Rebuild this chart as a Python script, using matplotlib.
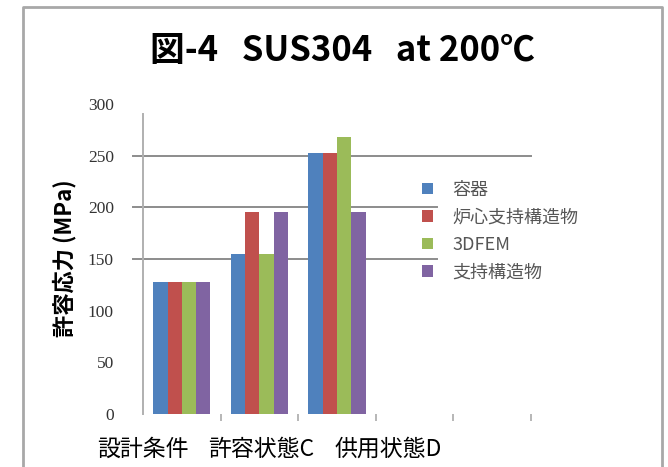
import matplotlib
matplotlib.use('Agg')
import matplotlib.pyplot as plt
import numpy as np
from matplotlib.lines import Line2D

plt.rcParams['font.family'] = ['Noto Sans CJK JP', 'DejaVu Sans']

# data
categories = ['設計条件', '許容状態C', '供用状態D']
series_names = ['容器', '炉心支持構造物', '3DFEM', '支持構造物']
vessel = [128, 155, 253]
core_support = [128, 195, 253]
fem3d = [128, 155, 268]
support = [128, 195, 195]
yticks = [0, 50, 100, 150, 200, 250, 300]
gridvals = [150, 200, 250]
colors = ['#4F81BD', '#C0504D', '#9BBB59', '#8064A2']

W, H = 668, 467
fig = plt.figure(figsize=(W / 100, H / 100), dpi=100)
ax = fig.add_axes([143 / W, 1 - 414 / H, 388 / W, 310 / H])

x = np.arange(len(categories))
bw = 0.184
all_series = [vessel, core_support, fem3d, support]
for i, (vals, c, name) in enumerate(zip(all_series, colors, series_names)):
    ax.bar(x + (i - 1.5) * bw, vals, bw, color=c, label=name, zorder=3,
           edgecolor='none')

ax.set_xlim(-0.5, 4.5)
ax.set_ylim(0, 300)

# gridlines only at a few values, sticking out left of the axis a bit;
# the lower ones stop where the legend box starts
for g in gridvals:
    right = 1.0 if g == 250 else 0.758
    ax.plot([-0.026, right], [g, g], transform=ax.get_yaxis_transform(),
            color='#8c8c8c', lw=1.4, clip_on=False, zorder=1)

for s in ['top', 'right', 'bottom']:
    ax.spines[s].set_visible(False)
ax.spines['left'].set_color('#b0b0b0')
ax.spines['left'].set_linewidth(1.4)
ax.spines['left'].set_bounds(0, 290)

ax.set_yticks(yticks)
ax.set_yticklabels([str(v) for v in yticks], fontsize=12.5, color='#333333',
                   family=['Liberation Serif', 'DejaVu Serif'])
ax.tick_params(axis='y', length=0, pad=21)

# category ticks along the bottom, no axis line
ax.set_xticks(np.arange(0.5, 5.0, 1.0))
ax.set_xticklabels([])
ax.tick_params(axis='x', length=5, color='#aaaaaa', width=1.2)

ax.set_ylabel('許容応力 (MPa)', fontsize=16, fontweight='bold')
ax.yaxis.set_label_coords(-0.172, 0.503)

leg = ax.legend(loc='upper left', bbox_to_anchor=(0.70, 0.775), frameon=False,
                fontsize=13, handlelength=0.6, handleheight=0.6,
                labelspacing=0.52, handletextpad=1.1, borderaxespad=0)
for t in leg.get_texts():
    t.set_color('#555555')

fig.text(342 / W, 1 - 51 / H, '図-4   SUS304   at 200℃', ha='center',
         va='center', fontsize=25, fontweight='bold')

label_x = [97, 208, 335]
for lx, cat in zip(label_x, categories):
    fig.text(lx / W, 1 - 449 / H, cat, ha='left', va='center', fontsize=16.5)

# chart frame (open at the bottom)
frame = Line2D([23 / W, 23 / W, 662 / W, 662 / W],
               [0, 1 - 7 / H, 1 - 7 / H, 0], transform=fig.transFigure,
               color='#a8a8a8', lw=2)
fig.add_artist(frame)

fig.savefig('out.png', dpi=100)
